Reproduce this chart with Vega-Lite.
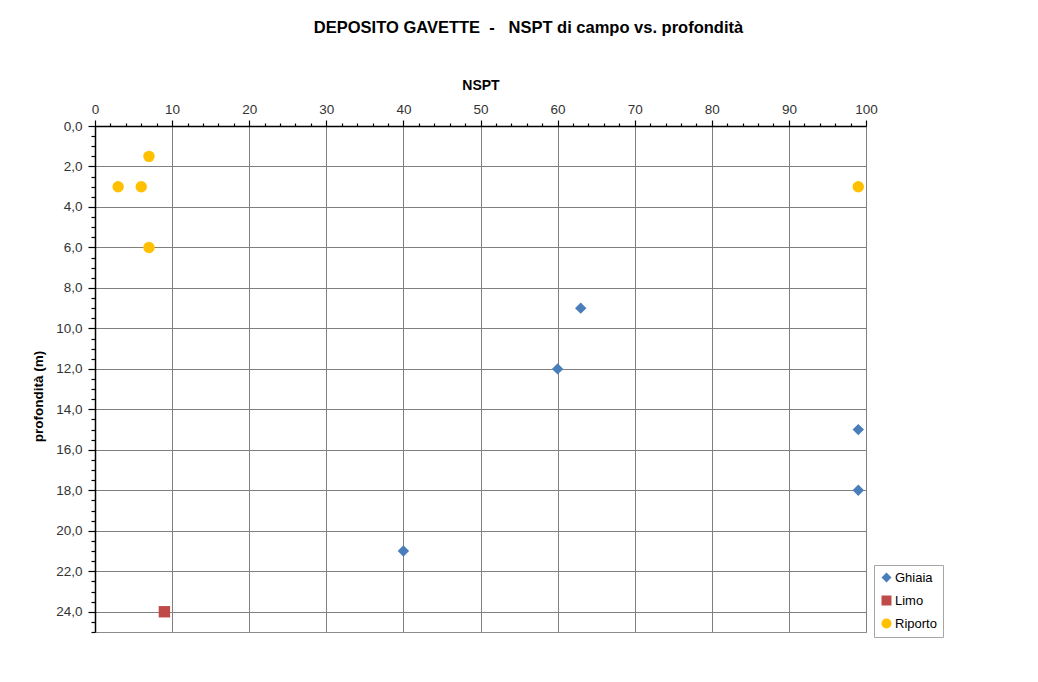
{
  "$schema": "https://vega.github.io/schema/vega-lite/v6.json",
  "width": 771,
  "height": 506,
  "autosize": {"type": "none"},
  "padding": {"left": 95, "top": 126, "right": 172, "bottom": 50},
  "background": "white",
  "config": {
    "font": "Liberation Sans",
    "view": {"stroke": "#8c8c8c", "strokeWidth": 1}
  },
  "title": {
    "text": "DEPOSITO GAVETTE \u00a0- \u00a0\u00a0NSPT di campo vs. profondità",
    "font": "Liberation Sans",
    "fontSize": 16.5,
    "fontWeight": "bold",
    "color": "#000000",
    "anchor": "middle",
    "frame": "group",
    "dx": 48,
    "offset": 42
  },
  "data": {
    "values": [
      {"NSPT": 7, "prof": 1.5, "serie": "Riporto"},
      {"NSPT": 3, "prof": 3, "serie": "Riporto"},
      {"NSPT": 6, "prof": 3, "serie": "Riporto"},
      {"NSPT": 7, "prof": 6, "serie": "Riporto"},
      {"NSPT": 99, "prof": 3, "serie": "Riporto"},
      {"NSPT": 63, "prof": 9, "serie": "Ghiaia"},
      {"NSPT": 60, "prof": 12, "serie": "Ghiaia"},
      {"NSPT": 99, "prof": 15, "serie": "Ghiaia"},
      {"NSPT": 99, "prof": 18, "serie": "Ghiaia"},
      {"NSPT": 40, "prof": 21, "serie": "Ghiaia"},
      {"NSPT": 9, "prof": 24, "serie": "Limo"}
    ]
  },
  "mark": {"type": "point", "filled": true, "opacity": 1, "size": 130},
  "encoding": {
    "x": {
      "field": "NSPT",
      "type": "quantitative",
      "scale": {"domain": [0, 100], "nice": false, "zero": false},
      "axis": {
        "orient": "top",
        "title": "NSPT",
        "titleFont": "Liberation Sans",
        "titleFontSize": 14,
        "titleFontWeight": "bold",
        "titleColor": "#000000",
        "titlePadding": 10,
        "values": [0,2,4,6,8,10,12,14,16,18,20,22,24,26,28,30,32,34,36,38,40,42,44,46,48,50,52,54,56,58,60,62,64,66,68,70,72,74,76,78,80,82,84,86,88,90,92,94,96,98,100],
        "labelExpr": "datum.value % 10 === 0 ? datum.label : ''",
        "labelFontSize": 13.5,
        "labelColor": "#333333",
        "labelPadding": 4,
        "labelFlush": false,
        "domainColor": "#000000",
        "domainWidth": 1.5,
        "tickColor": "#000000",
        "tickWidth": 1.2,
        "tickSize": {"condition": {"test": "datum.value % 10 === 0", "value": 6}, "value": 3},
        "grid": true,
        "gridColor": "#7f7f7f",
        "gridWidth": 1,
        "gridOpacity": {"condition": {"test": "datum.value % 10 === 0", "value": 1}, "value": 0}
      }
    },
    "y": {
      "field": "prof",
      "type": "quantitative",
      "scale": {"domain": [0, 25], "nice": false, "zero": false, "reverse": true},
      "axis": {
        "orient": "left",
        "title": "profondità (m)",
        "titleFont": "Liberation Sans",
        "titleFontSize": 13.5,
        "titleFontWeight": "bold",
        "titleColor": "#000000",
        "titlePadding": 10,
        "titleY": 270,
        "values": [0,0.5,1,1.5,2,2.5,3,3.5,4,4.5,5,5.5,6,6.5,7,7.5,8,8.5,9,9.5,10,10.5,11,11.5,12,12.5,13,13.5,14,14.5,15,15.5,16,16.5,17,17.5,18,18.5,19,19.5,20,20.5,21,21.5,22,22.5,23,23.5,24,24.5,25],
        "labelExpr": "datum.value % 2 === 0 && datum.value < 25 ? replace(format(datum.value, '.1f'), '.', ',') : ''",
        "labelFontSize": 13.5,
        "labelColor": "#333333",
        "labelPadding": 6,
        "labelFlush": false,
        "domainColor": "#000000",
        "domainWidth": 1.5,
        "tickColor": "#000000",
        "tickWidth": 1.2,
        "tickSize": {"condition": {"test": "datum.value % 2 === 0", "value": 7}, "value": 4},
        "grid": true,
        "gridColor": "#7f7f7f",
        "gridWidth": 1,
        "gridOpacity": {"condition": {"test": "datum.value % 2 === 0", "value": 1}, "value": 0}
      }
    },
    "color": {
      "field": "serie",
      "type": "nominal",
      "scale": {"domain": ["Ghiaia", "Limo", "Riporto"], "range": ["#4A7EBB", "#BE4B48", "#FFC000"]},
      "legend": {
        "title": null,
        "orient": "none",
        "legendX": 779,
        "legendY": 439,
        "strokeColor": "#a6a6a6",
        "padding": 6,
        "labelFont": "Liberation Sans",
        "labelFontSize": 13,
        "labelColor": "#000000",
        "rowPadding": 9,
        "symbolSize": 100,
        "labelOffset": 2,
        "fillColor": "white"
      }
    },
    "shape": {
      "field": "serie",
      "type": "nominal",
      "scale": {"domain": ["Ghiaia", "Limo", "Riporto"], "range": ["diamond", "square", "circle"]},
      "legend": null
    }
  }
}
